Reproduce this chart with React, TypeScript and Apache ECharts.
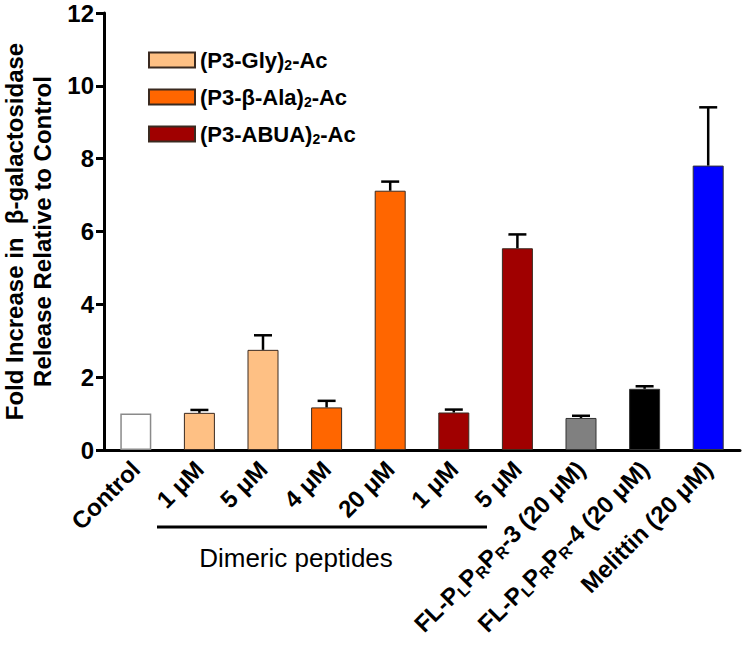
import React, { useEffect, useRef } from 'react';
import * as echarts from 'echarts';

const categories = ['Control', '1 μM', '5 μM', '4 μM', '20 μM', '1 μM', '5 μM', 'FL-PLPRPR-3 (20 μM)', 'FL-PLPRPR-4 (20 μM)', 'Melittin (20 μM)'];
const richLabels = ['Control', '1 μM', '5 μM', '4 μM', '20 μM', '1 μM', '5 μM', 'FL-P{s|L}P{s|R}P{s|R}-3 (20 μM)', 'FL-P{s|L}P{s|R}P{s|R}-4 (20 μM)', 'Melittin (20 μM)'];
const values = [1.0, 1.02, 2.75, 1.17, 7.12, 1.03, 5.54, 0.88, 1.68, 7.81];
const errors = [0, 0.08, 0.4, 0.18, 0.25, 0.08, 0.38, 0.06, 0.07, 1.6];
const groups = ['other', 'gly', 'gly', 'ala', 'ala', 'abua', 'abua', 'other', 'other', 'other'];
const legendKeys = ['gly', 'ala', 'abua'];
const legendNames = ['(P3-Gly)2-Ac', '(P3-β-Ala)2-Ac', '(P3-ABUA)2-Ac'];
const legendColors = ['#FEC084', '#FF6600', '#A00000'];
const otherColors = ['#FFFFFF', '', '', '', '', '', '', '#808080', '#000000', '#0000FF'];
const yTicks = { min: 0, max: 12, interval: 2 };
const groupLabel = 'Dimeric peptides';
const yTitle = 'Fold Increase in  β-galactosidase\nRelease Relative to Control';

const FONT = '"Liberation Sans", Arial, Helvetica, sans-serif';

export default function App() {
  const ref = useRef<HTMLDivElement>(null);
  useEffect(() => {
    document.body.style.margin = '0';
    const chart = echarts.init(ref.current!, null, { renderer: 'svg' });
    const barW = 31;
    const series: any[] = legendKeys.map((k, li) => ({
      name: legendNames[li],
      type: 'bar',
      barWidth: barW,
      barGap: '-100%',
      itemStyle: { color: legendColors[li], borderColor: '#3a2a20', borderWidth: 1 },
      data: values.map((v, i) => (groups[i] === k ? v : '-')),
    }));
    series.push({
      name: 'other',
      type: 'bar',
      barWidth: barW,
      barGap: '-100%',
      data: values.map((v, i) =>
        groups[i] === 'other'
          ? {
              value: v,
              itemStyle: {
                color: otherColors[i],
                borderColor: i === 0 ? '#8a8a8a' : '#333',
                borderWidth: i === 0 ? 1.5 : 1,
              },
            }
          : '-'
      ),
    });
    series.push({
      name: 'err',
      type: 'custom',
      z: 5,
      data: values.map((v, i) => [i, v, v + errors[i]]),
      renderItem: (params: any, api: any) => {
        const i = api.value(0);
        const lo = api.coord([i, api.value(1)]);
        const hi = api.coord([i, api.value(2)]);
        if (hi[1] >= lo[1] - 0.5) return { type: 'group', children: [] };
        const st = { stroke: '#000', lineWidth: 2.5 };
        return {
          type: 'group',
          children: [
            { type: 'line', shape: { x1: lo[0], y1: lo[1], x2: hi[0], y2: hi[1] }, style: st },
            { type: 'line', shape: { x1: hi[0] - 9, y1: hi[1], x2: hi[0] + 9, y2: hi[1] }, style: st },
          ],
        };
      },
    });

    chart.setOption({
      animation: false,
      textStyle: { fontFamily: FONT },
      grid: { left: 104, right: 10, top: 13, bottom: 205, containLabel: false, outerBoundsMode: 'none' },
      legend: {
        data: legendNames,
        orient: 'vertical',
        left: 143,
        top: 44,
        icon: 'rect',
        itemWidth: 46,
        itemHeight: 15,
        itemGap: 14,
        formatter: (n: string) => n.replace(')2', '){s|2}'),
        textStyle: {
          fontFamily: FONT,
          fontSize: 22,
          fontWeight: 'bold',
          color: '#000',
          rich: {
            s: { fontFamily: FONT, fontSize: 14, fontWeight: 'bold', color: '#000', verticalAlign: 'bottom', padding: [10, 0, 0, 0] },
          },
        },
      },
      xAxis: {
        type: 'category',
        data: categories,
        axisLine: { lineStyle: { color: '#000', width: 3 } },
        axisTick: { alignWithLabel: true, length: 8, lineStyle: { color: '#000', width: 3 } },
        axisLabel: {
          interval: 0,
          rotate: 45,
          margin: 15,
          fontFamily: FONT,
          fontSize: 24,
          fontWeight: 'bold',
          color: '#000',
          formatter: (_v: string, idx: number) => richLabels[idx],
          rich: {
            s: { fontFamily: FONT, fontSize: 16, fontWeight: 'bold', color: '#000', verticalAlign: 'bottom', padding: [12, 0, 0, 0] },
          },
        },
      },
      yAxis: {
        type: 'value',
        min: yTicks.min,
        max: yTicks.max,
        interval: yTicks.interval,
        name: yTitle,
        nameLocation: 'middle',
        nameRotate: 90,
        nameGap: 48,
        nameTextStyle: { fontFamily: FONT, fontSize: 24, fontWeight: 'bold', color: '#000', lineHeight: 28 },
        splitLine: { show: false },
        axisLine: { show: true, lineStyle: { color: '#000', width: 3 } },
        axisTick: { show: true, length: 8, lineStyle: { color: '#000', width: 3 } },
        axisLabel: { fontFamily: FONT, fontSize: 24, fontWeight: 'bold', color: '#000', margin: 10 },
      },
      graphic: [
        { type: 'line', shape: { x1: 157, y1: 527, x2: 487, y2: 527 }, style: { stroke: '#000', lineWidth: 3 } },
        {
          type: 'text',
          x: 296,
          y: 558,
          style: { text: groupLabel, fontFamily: FONT, fontSize: 26, fill: '#000', align: 'center', verticalAlign: 'middle' },
        },
      ],
      series,
    });
    return () => chart.dispose();
  }, []);
  return <div ref={ref} style={{ width: 750, height: 655 }} />;
}
